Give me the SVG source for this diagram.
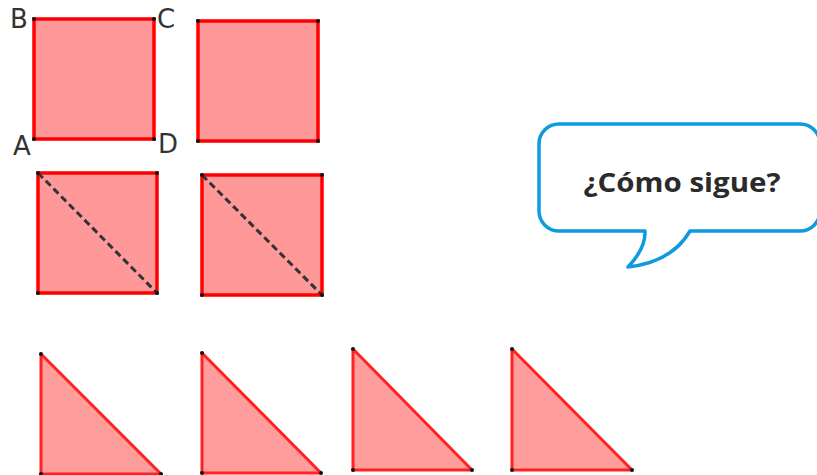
<svg xmlns="http://www.w3.org/2000/svg" width="817" height="475" viewBox="0 0 817 475">
<style>
.sq{fill:#ff9999;stroke:#ff0000;stroke-width:3.5;stroke-linejoin:miter}
.tri{fill:#ff9d9d;stroke:#ff2222;stroke-width:3;stroke-linejoin:round}
.dot{fill:#111}
.diag{stroke:#333;stroke-width:3;stroke-dasharray:7 4;fill:none}
.lbl{font-family:"DejaVu Sans",sans-serif;font-size:26px;fill:#333}
.bubble{fill:#fff;stroke:#0f9ae0;stroke-width:3.5;stroke-linejoin:round}
.q{font-family:"Open Sans","Noto Sans",sans-serif;font-weight:bold;font-size:27px;fill:#2b2b2b}
</style>
<rect width="817" height="475" fill="#fff"/>
<g id="square1">
<rect class="sq" x="34" y="19" width="120" height="120"/>
<circle class="dot" cx="34" cy="19" r="2"/><circle class="dot" cx="154" cy="19" r="2"/>
<circle class="dot" cx="34" cy="139" r="2"/><circle class="dot" cx="154" cy="139" r="2"/>
<text class="lbl" x="10" y="28">B</text>
<text class="lbl" x="157" y="28">C</text>
<text class="lbl" x="13" y="155">A</text>
<text class="lbl" x="158" y="153">D</text>
</g>
<g id="square2">
<rect class="sq" x="198" y="21" width="120" height="120"/>
<circle class="dot" cx="198" cy="21" r="2"/><circle class="dot" cx="318" cy="21" r="2"/>
<circle class="dot" cx="198" cy="141" r="2"/><circle class="dot" cx="318" cy="141" r="2"/>
</g>
<g id="square3">
<rect class="sq" x="38" y="173" width="119" height="120"/>
<line class="diag" x1="38" y1="173" x2="157" y2="293"/>
<circle class="dot" cx="38" cy="173" r="2"/><circle class="dot" cx="157" cy="173" r="2"/>
<circle class="dot" cx="38" cy="293" r="2"/><circle class="dot" cx="157" cy="293" r="2"/>
</g>
<g id="square4">
<rect class="sq" x="202" y="175" width="120" height="120"/>
<line class="diag" x1="202" y1="175" x2="322" y2="295"/>
<circle class="dot" cx="202" cy="175" r="2"/><circle class="dot" cx="322" cy="175" r="2"/>
<circle class="dot" cx="202" cy="295" r="2"/><circle class="dot" cx="322" cy="295" r="2"/>
</g>
<g id="triangle1">
<polygon class="tri" points="41,354 41,474 161,474"/>
<circle class="dot" cx="41" cy="354" r="2"/><circle class="dot" cx="41" cy="474" r="2"/><circle class="dot" cx="161" cy="474" r="2"/>
</g>
<g id="triangle2">
<polygon class="tri" points="202,353 202,473 321,473"/>
<circle class="dot" cx="202" cy="353" r="2"/><circle class="dot" cx="202" cy="473" r="2"/><circle class="dot" cx="321" cy="473" r="2"/>
</g>
<g id="triangle3">
<polygon class="tri" points="353,349 353,470 472,470"/>
<circle class="dot" cx="353" cy="349" r="2"/><circle class="dot" cx="353" cy="470" r="2"/><circle class="dot" cx="472" cy="470" r="2"/>
</g>
<g id="triangle4">
<polygon class="tri" points="512,349 512,470 632,470"/>
<circle class="dot" cx="512" cy="349" r="2"/><circle class="dot" cx="512" cy="470" r="2"/><circle class="dot" cx="632" cy="470" r="2"/>
</g>
<g id="bubble">
<path class="bubble" d="M 559 124 H 800 A 20 20 0 0 1 820 144 V 211 A 20 20 0 0 1 800 231 H 690 Q 672 262 628 267 Q 646 248 645 231 H 559 A 20 20 0 0 1 539 211 V 144 A 20 20 0 0 1 559 124 Z"/>
<text class="q" x="682" y="192" text-anchor="middle" textLength="197" lengthAdjust="spacingAndGlyphs">¿Cómo sigue?</text>
</g>
<g id="connectors"></g>
</svg>
